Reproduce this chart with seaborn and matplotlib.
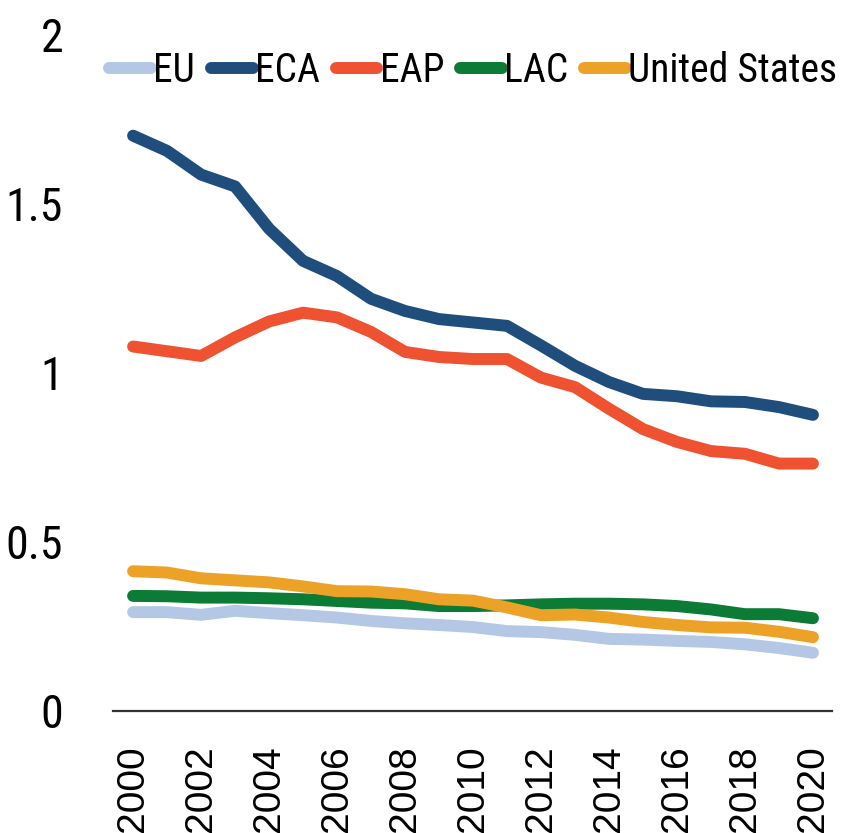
import matplotlib.pyplot as plt
import pandas as pd
import seaborn as sns
from matplotlib import font_manager

years = list(range(2000, 2021))

eu = [0.292, 0.292, 0.284, 0.296, 0.289, 0.283, 0.276, 0.266, 0.259, 0.254, 0.248,
      0.236, 0.233, 0.225, 0.213, 0.211, 0.207, 0.204, 0.197, 0.186, 0.172]
eca = [1.70, 1.655, 1.585, 1.55, 1.425, 1.33, 1.285, 1.218, 1.182, 1.158, 1.148,
       1.138, 1.08, 1.02, 0.972, 0.937, 0.93, 0.915, 0.913, 0.898, 0.875]
eap = [1.077, 1.063, 1.049, 1.104, 1.151, 1.177, 1.163, 1.12, 1.061, 1.046, 1.04,
       1.04, 0.985, 0.957, 0.893, 0.833, 0.795, 0.768, 0.76, 0.731, 0.731]
lac = [0.34, 0.339, 0.335, 0.335, 0.333, 0.33, 0.325, 0.32, 0.318, 0.31, 0.31,
       0.312, 0.315, 0.317, 0.317, 0.315, 0.31, 0.3, 0.286, 0.286, 0.274]
us = [0.413, 0.409, 0.392, 0.386, 0.38, 0.368, 0.354, 0.353, 0.345, 0.33, 0.326,
      0.306, 0.283, 0.285, 0.276, 0.263, 0.254, 0.247, 0.246, 0.234, 0.218]

series_names = ["EU", "ECA", "EAP", "LAC", "United States"]
colors = ["#b4c8e6", "#1f4e7c", "#ee5231", "#0b7b35", "#eca226"]

y_ticks = [0, 0.5, 1, 1.5, 2]
y_tick_labels = ["0", "0.5", "1", "1.5", "2"]
x_ticks = list(range(2000, 2021, 2))

df = pd.DataFrame({"year": years, "EU": eu, "ECA": eca, "EAP": eap,
                   "LAC": lac, "United States": us})
long_df = df.melt(id_vars="year", var_name="series", value_name="value")


def pick_narrow_font():
    # the original uses a condensed face; take the narrowest thing we have
    fonts = font_manager.fontManager.ttflist
    names = {f.name for f in fonts}
    for name in ["Liberation Sans Narrow", "Roboto Condensed", "Open Sans Condensed",
                 "Noto Sans Condensed", "DejaVu Sans Condensed"]:
        if name in names:
            return name, "normal"
    for f in fonts:
        if f.stretch in ("condensed", "semi-condensed", "extra-condensed") and f.weight in (400, "normal"):
            return f.name, f.stretch
    return "DejaVu Sans", "normal"


narrow_family, narrow_stretch = pick_narrow_font()

sns.set_theme(style="white")
plt.rcParams["font.family"] = [narrow_family, "DejaVu Sans"]
plt.rcParams["font.stretch"] = narrow_stretch

fig = plt.figure(figsize=(8.41, 8.33), dpi=100)
ax = fig.add_axes([0.1344, 0.1465, 0.8549, 0.8125])

sns.lineplot(
    data=long_df,
    x="year",
    y="value",
    hue="series",
    hue_order=series_names,
    palette=dict(zip(series_names, colors)),
    linewidth=8.6,
    solid_capstyle="round",
    legend=False,
    ax=ax,
)

ax.set_xlim(1999.41, 2020.56)
ax.set_ylim(0, 2)
ax.set_xlabel("")
ax.set_ylabel("")

ax.set_yticks(y_ticks)
ax.set_yticklabels(y_tick_labels, fontsize=33, color="black")
ax.set_xticks(x_ticks)
ax.set_xticklabels([str(y) for y in x_ticks], rotation=90, fontsize=28,
                   family="Liberation Sans", stretch="normal", va="top",
                   color="black")
ax.tick_params(axis="y", length=0, pad=36)
ax.tick_params(axis="x", length=0, pad=25)

for side in ["top", "right", "left"]:
    ax.spines[side].set_visible(False)
ax.spines["bottom"].set_color("#333333")
ax.spines["bottom"].set_linewidth(1.6)

leg = ax.legend(
    ax.lines,
    series_names,
    loc="center left",
    bbox_to_anchor=(-0.005, 0.947),
    ncol=5,
    frameon=False,
    fontsize=28.5,
    handlelength=1.05,
    handletextpad=0.06,
    columnspacing=0.4,
    borderpad=0,
    borderaxespad=0,
)
for t in leg.get_texts():
    t.set_color("black")

fig.savefig("out.png", dpi=100)
